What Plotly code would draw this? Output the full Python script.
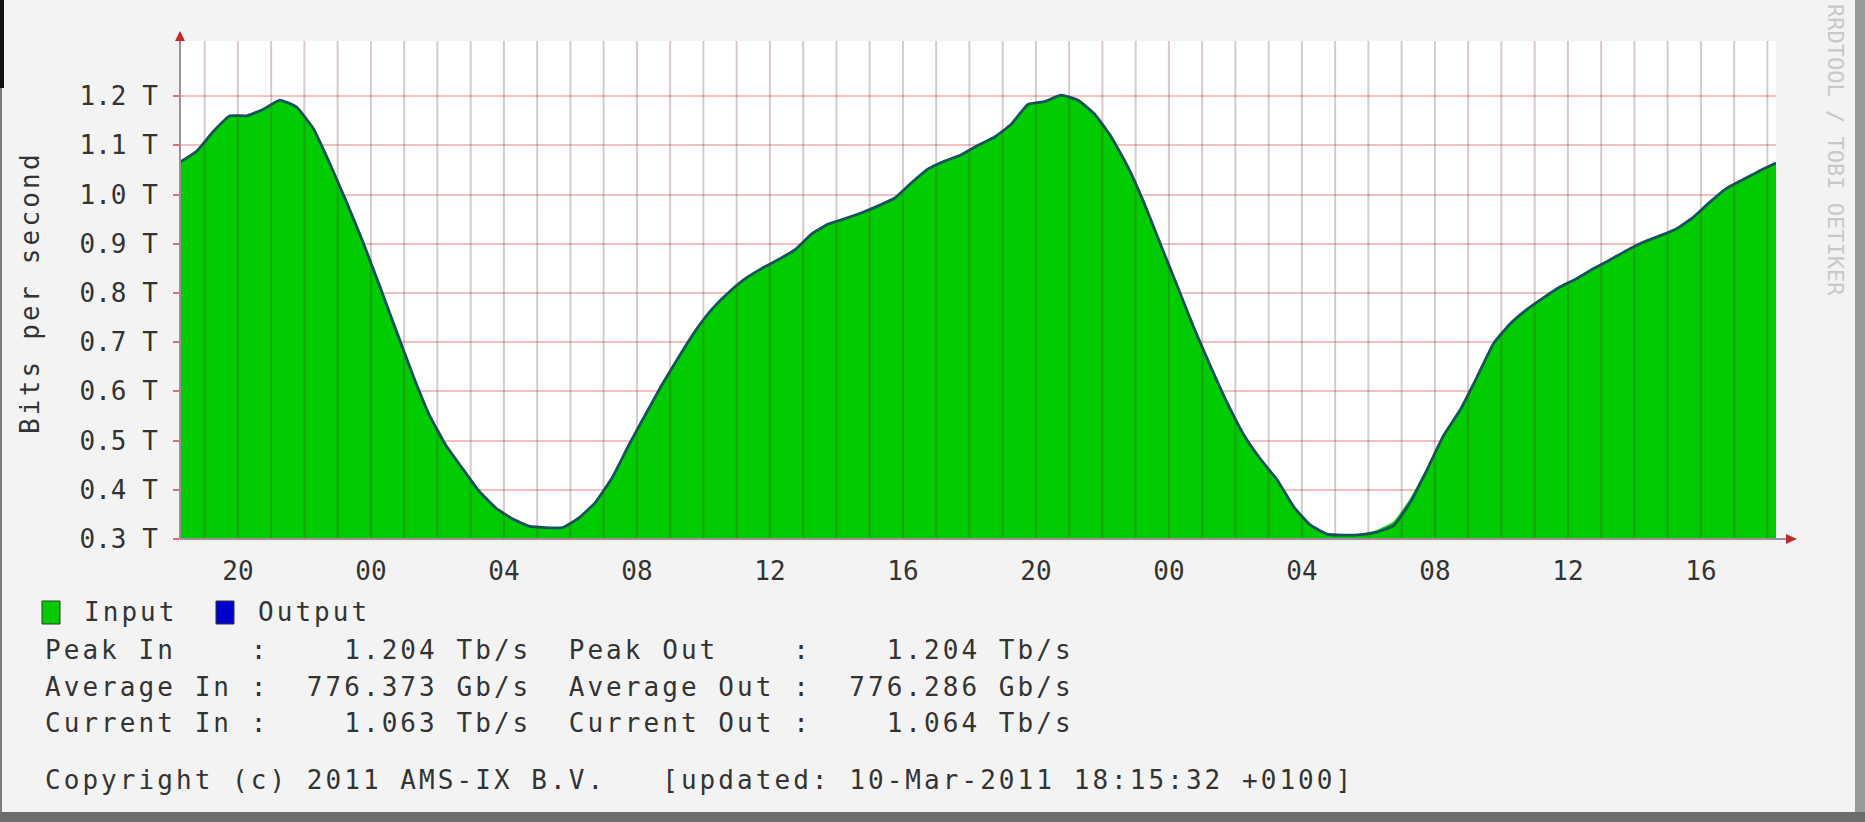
import pandas as pd
import plotly.graph_objects as go

# ---------------- data ----------------
start_time = "2011-03-08 18:15:32"
end_time = "2011-03-10 18:15:32"
sample_step = "30min"

# Input traffic (Tb/s), one reading every 30 minutes
input_tbps = [
    1.066, 1.088, 1.128, 1.160, 1.160, 1.173, 1.192, 1.178, 1.135, 1.064,
    0.986, 0.904, 0.815, 0.724, 0.634, 0.552, 0.490, 0.443, 0.397, 0.363,
    0.341, 0.326, 0.323, 0.323, 0.343, 0.375, 0.425, 0.491, 0.553, 0.614,
    0.670, 0.723, 0.767, 0.801, 0.829, 0.850, 0.868, 0.888, 0.920, 0.940,
    0.951, 0.963, 0.977, 0.993, 1.024, 1.052, 1.068, 1.081, 1.100, 1.117,
    1.143, 1.183, 1.189, 1.202, 1.192, 1.164, 1.118, 1.057, 0.982, 0.897,
    0.813, 0.728, 0.650, 0.576, 0.511, 0.462, 0.420, 0.365, 0.328, 0.310,
    0.308, 0.309, 0.318, 0.335, 0.382, 0.444, 0.512, 0.565, 0.630, 0.697,
    0.737, 0.766, 0.790, 0.812, 0.829, 0.849, 0.867, 0.886, 0.903, 0.916,
    0.930, 0.953, 0.984, 1.012, 1.030, 1.048, 1.063,
]
# Output traffic (Tb/s)
output_tbps = [
    1.066, 1.088, 1.128, 1.160, 1.160, 1.173, 1.192, 1.178, 1.135, 1.064,
    0.986, 0.904, 0.815, 0.724, 0.634, 0.552, 0.490, 0.443, 0.397, 0.363,
    0.341, 0.326, 0.323, 0.323, 0.343, 0.375, 0.425, 0.491, 0.553, 0.614,
    0.670, 0.723, 0.767, 0.801, 0.829, 0.850, 0.868, 0.888, 0.920, 0.940,
    0.951, 0.963, 0.977, 0.993, 1.024, 1.052, 1.068, 1.081, 1.100, 1.117,
    1.143, 1.183, 1.189, 1.202, 1.192, 1.164, 1.118, 1.057, 0.982, 0.897,
    0.813, 0.728, 0.650, 0.576, 0.511, 0.462, 0.420, 0.365, 0.328, 0.310,
    0.308, 0.309, 0.314, 0.327, 0.374, 0.440, 0.510, 0.562, 0.628, 0.697,
    0.737, 0.766, 0.790, 0.812, 0.829, 0.849, 0.867, 0.886, 0.903, 0.916,
    0.930, 0.953, 0.984, 1.012, 1.030, 1.048, 1.064,
]

y_tick_vals = [0.3, 0.4, 0.5, 0.6, 0.7, 0.8, 0.9, 1.0, 1.1, 1.2]
y_tick_text = ["0.3 T", "0.4 T", "0.5 T", "0.6 T", "0.7 T", "0.8 T",
               "0.9 T", "1.0 T", "1.1 T", "1.2 T"]
x_first_tick = "2011-03-08 20:00"
x_tick_text = ["20", "00", "04", "08", "12", "16", "20", "00", "04", "08", "12", "16"]
y_range = [0.3, 1.312]

legend_labels = ["Input", "Output"]
legend_colors = ["#00cc00", "#0000cc"]
stat_rows = [
    "Peak In    :    1.204 Tb/s  Peak Out    :    1.204 Tb/s",
    "Average In :  776.373 Gb/s  Average Out :  776.286 Gb/s",
    "Current In :    1.063 Tb/s  Current Out :    1.064 Tb/s",
]
footer = "Copyright (c) 2011 AMS-IX B.V.   [updated: 10-Mar-2011 18:15:32 +0100]"
y_title = "Bits per second"
watermark = "RRDTOOL / TOBI OETIKER"

# ---------------- geometry / style ----------------
W, H = 1865, 822
PL, PR, PT, PB = 180, 1776, 41, 539
MONO = "DejaVu Sans Mono"
TXT = "#333333"
SP = 3.05  # letter spacing to mimic the wide bitmap font


def px(x):
    return (x - PL) / (PR - PL)


def py(y):
    return (PB - y) / (PB - PT)


def spaced(s, sp=SP):
    return '<span style="letter-spacing:%.2fpx">%s</span>' % (sp, s.replace(" ", "\u00a0"))


times = pd.date_range(start_time, end_time, freq=sample_step)
x_tick_vals = pd.date_range(x_first_tick, periods=len(x_tick_text), freq="4h")
grid_hours = pd.date_range(pd.Timestamp(start_time).ceil("h"),
                           pd.Timestamp(end_time).floor("h"), freq="1h")

fig = go.Figure()
fig.add_trace(go.Scatter(x=times, y=input_tbps, mode="lines", fill="tozeroy",
                         fillcolor="#00cc00", line=dict(color="#00cc00", width=0.5, shape="spline", smoothing=0.4),
                         name="Input", showlegend=False, hoverinfo="skip"))
fig.add_trace(go.Scatter(x=times, y=output_tbps, mode="lines",
                         line=dict(color="#17535c", width=2.8, shape="spline", smoothing=0.4),
                         name="Output", showlegend=False, hoverinfo="skip"))

shapes = []
# vertical hourly grid drawn above the area (rrdtool style)
for t in grid_hours:
    shapes.append(dict(type="line", xref="x", yref="paper", x0=t, x1=t, y0=0, y1=1,
                       line=dict(color="rgba(110,45,45,0.26)", width=2), layer="above"))
# axis lines with red arrows
shapes.append(dict(type="line", xref="paper", yref="paper", x0=px(180), x1=px(180),
                   y0=py(PB), y1=py(36), line=dict(color="#9a8f9a", width=2), layer="above"))
shapes.append(dict(type="line", xref="paper", yref="paper", x0=px(180), x1=px(1792),
                   y0=py(PB), y1=py(PB), line=dict(color="#9a8f9a", width=2), layer="above"))
shapes.append(dict(type="path", xref="paper", yref="paper",
                   path="M %f %f L %f %f L %f %f Z" % (px(180), py(31), px(175), py(41), px(185), py(41)),
                   fillcolor="#c42a2a", line=dict(width=0), layer="above"))
shapes.append(dict(type="path", xref="paper", yref="paper",
                   path="M %f %f L %f %f L %f %f Z" % (px(1797), py(PB), px(1786), py(PB - 5), px(1786), py(PB + 5)),
                   fillcolor="#c42a2a", line=dict(width=0), layer="above"))
# legend boxes
legend_x = [42, 216]
for lx, col in zip(legend_x, legend_colors):
    shapes.append(dict(type="rect", xref="paper", yref="paper",
                       x0=px(lx), x1=px(lx + 18), y0=py(624), y1=py(601),
                       fillcolor=col, line=dict(color="#333333", width=1)))
# window frame
shapes.append(dict(type="rect", xref="paper", yref="paper", x0=px(0), x1=px(4),
                   y0=py(0), y1=py(88), fillcolor="#111111", line=dict(width=0)))
shapes.append(dict(type="rect", xref="paper", yref="paper", x0=px(0), x1=px(2),
                   y0=py(88), y1=py(H), fillcolor="#7a7a7a", line=dict(width=0)))
shapes.append(dict(type="rect", xref="paper", yref="paper", x0=px(0), x1=px(W),
                   y0=py(812), y1=py(H), fillcolor="#6c6c6c", line=dict(width=0)))
shapes.append(dict(type="rect", xref="paper", yref="paper", x0=px(1855), x1=px(W),
                   y0=py(0), y1=py(812), fillcolor="#9a9a9a", line=dict(width=0)))

annotations = []
for lx, lab in zip([82, 256], legend_labels):
    annotations.append(dict(xref="paper", yref="paper", x=px(lx), y=py(612), text=spaced(lab),
                            showarrow=False, xanchor="left", yanchor="middle",
                            font=dict(family=MONO, size=26, color=TXT)))
for row, yy in zip(stat_rows, [650, 687, 723]):
    annotations.append(dict(xref="paper", yref="paper", x=px(43), y=py(yy), text=spaced(row),
                            showarrow=False, xanchor="left", yanchor="middle",
                            font=dict(family=MONO, size=26, color=TXT)))
annotations.append(dict(xref="paper", yref="paper", x=px(43), y=py(780), text=spaced(footer),
                        showarrow=False, xanchor="left", yanchor="middle",
                        font=dict(family=MONO, size=26, color=TXT)))
annotations.append(dict(xref="paper", yref="paper", x=px(30), y=py(293), text=spaced(y_title, 3.2),
                        showarrow=False, textangle=-90, xanchor="center", yanchor="middle",
                        font=dict(family=MONO, size=26, color=TXT)))
annotations.append(dict(xref="paper", yref="paper", x=px(1835), y=py(150), text=watermark,
                        showarrow=False, textangle=90, xanchor="center", yanchor="middle",
                        font=dict(family=MONO, size=22, color="#c8c8c8")))

fig.update_layout(
    width=W, height=H,
    margin=dict(l=PL, r=W - PR, t=PT, b=H - PB, pad=0),
    paper_bgcolor="#f3f3f3", plot_bgcolor="#ffffff",
    shapes=shapes, annotations=annotations, showlegend=False,
    xaxis=dict(type="date", range=[times[0], times[-1]], tickmode="array",
               tickvals=x_tick_vals, ticktext=x_tick_text, showgrid=False,
               zeroline=False, showline=False, ticks="", ticklabelstandoff=14,
               tickfont=dict(family=MONO, size=26, color=TXT), fixedrange=True),
    yaxis=dict(range=y_range, tickmode="array", tickvals=y_tick_vals,
               ticktext=[t.replace(" ", "\u00a0") for t in y_tick_text],
               showgrid=True, gridcolor="#f4c0c0", gridwidth=2, zeroline=False,
               showline=False, ticks="outside", ticklen=6, tickcolor="#e07070",
               tickwidth=2, ticklabelstandoff=10,
               tickfont=dict(family=MONO, size=26, color=TXT), fixedrange=True),
)

fig.write_html("out.html", config={"displayModeBar": False},
               post_script="document.body.style.margin='0';document.body.style.overflow='hidden';")
